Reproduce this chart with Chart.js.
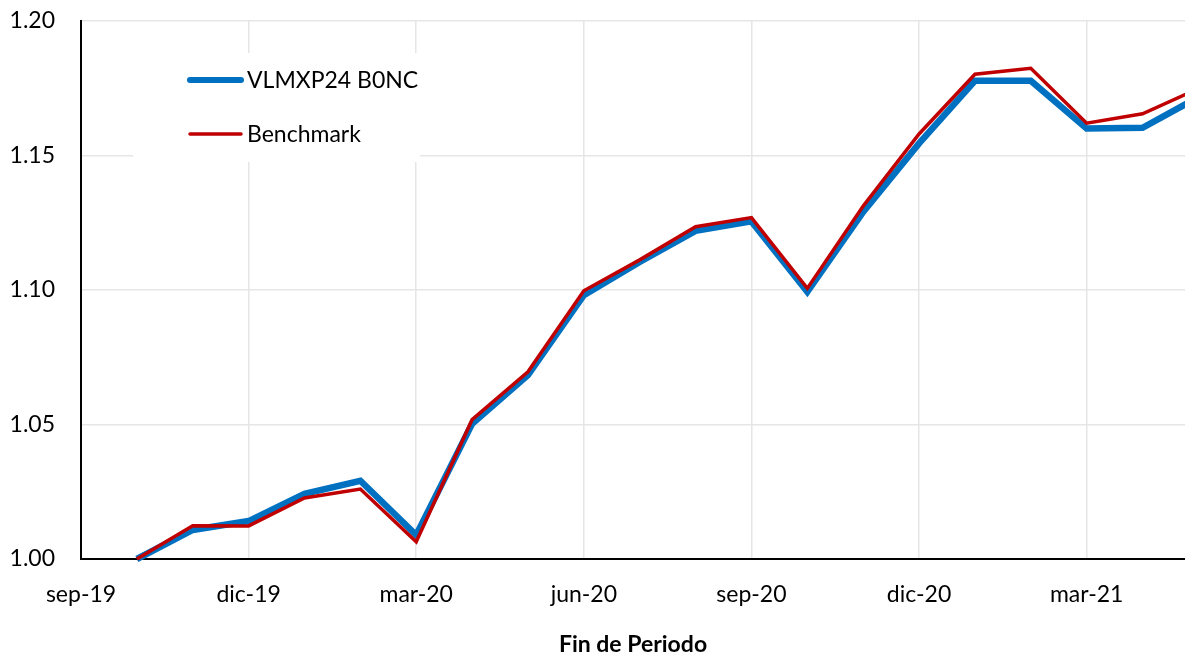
<!DOCTYPE html>
<html>
<head>
<meta charset="utf-8">
<script src="https://cdn.jsdelivr.net/npm/chart.js@4/dist/chart.umd.min.js"></script>
<style>
  html, body { margin: 0; padding: 0; background: #ffffff; }
  #wrap { width: 1185px; height: 658px; position: relative; }
</style>
</head>
<body>
<div id="wrap"><canvas id="c" width="1185" height="658"></canvas></div>
<script>
// Periods (end of month), x position = months after sep-19
const periods = ['oct-19','nov-19','dic-19','ene-20','feb-20','mar-20','abr-20','may-20','jun-20','jul-20','ago-20','sep-20',
                 'oct-20','nov-20','dic-20','ene-21','feb-21','mar-21','abr-21','may-21'];
const monthOffset = [1,2,3,4,5,6,7,8,9,10,11,12,13,14,15,16,17,18,19,20];
const fundValues = [1.000, 1.0108, 1.0141, 1.0242, 1.0291, 1.0089, 1.0503, 1.0684, 1.0981, 1.1104,
                    1.1220, 1.1255, 1.0993, 1.1290, 1.1545, 1.1778, 1.1778, 1.1600, 1.1603, 1.1717];
const benchValues = [1.000, 1.0124, 1.0123, 1.0227, 1.0260, 1.0064, 1.0518, 1.0696, 1.0997, 1.1112,
                     1.1235, 1.1269, 1.1006, 1.1312, 1.1580, 1.1802, 1.1824, 1.1620, 1.1655, 1.1749];
const tickLabels = ['sep-19','dic-19','mar-20','jun-20','sep-20','dic-20','mar-21'];
const tickMonths = [0, 3, 6, 9, 12, 15, 18];
const seriesNames = ['VLMXP24 B0NC', 'Benchmark'];

const FONT = 'Lato, "Open Sans", sans-serif';

const legendPlugin = {
  id: 'innerLegend',
  beforeDatasetsDraw(chart) {
    const ctx = chart.ctx;
    ctx.save();
    ctx.fillStyle = '#ffffff';
    ctx.fillRect(133, 53, 287, 109);
    const items = [
      { ds: chart.data.datasets[0], y: 80 },
      { ds: chart.data.datasets[1], y: 134 }
    ];
    items.forEach(it => {
      ctx.strokeStyle = it.ds.borderColor;
      ctx.lineWidth = it.ds.legendLineWidth;
      ctx.lineCap = 'round';
      ctx.beginPath();
      ctx.moveTo(190, it.y);
      ctx.lineTo(241, it.y);
      ctx.stroke();
      ctx.fillStyle = '#000000';
      ctx.font = '23px ' + FONT;
      ctx.textBaseline = 'middle';
      ctx.textAlign = 'left';
      ctx.fillText(it.ds.label, 247, it.y + 1);
    });
    ctx.restore();
  }
};

new Chart(document.getElementById('c'), {
  type: 'line',
  data: {
    datasets: [
      {
        label: seriesNames[0],
        data: monthOffset.map((m, i) => ({ x: m, y: fundValues[i] })),
        borderColor: '#0070C0',
        borderWidth: 6.5,
        legendLineWidth: 6,
        pointRadius: 0,
        tension: 0,
        order: 2,
        clip: { left: 10, top: 10, right: 0, bottom: 10 }
      },
      {
        label: seriesNames[1],
        data: monthOffset.map((m, i) => ({ x: m, y: benchValues[i] })),
        borderColor: '#C00000',
        borderWidth: 3.5,
        legendLineWidth: 3.5,
        pointRadius: 0,
        tension: 0,
        order: 1,
        clip: { left: 10, top: 10, right: 0, bottom: 10 }
      }
    ]
  },
  options: {
    responsive: false,
    animation: false,
    layout: { padding: { top: 21, right: 0, left: 0, bottom: 0 } },
    plugins: { legend: { display: false }, tooltip: { enabled: false } },
    scales: {
      x: {
        type: 'linear',
        min: 0,
        max: 19.76,
        afterBuildTicks(scale) {
          scale.ticks = tickMonths.map(v => ({ value: v }));
        },
        afterFit(scale) {
          scale.height = 99;
          scale.paddingLeft = 0; scale.paddingRight = 0;
          scale.paddingTop = 0; scale.paddingBottom = 0;
        },
        ticks: {
          autoSkip: false,
          maxRotation: 0,
          padding: 22,
          color: '#000000',
          font: { family: FONT, size: 23 },
          callback: (v) => tickLabels[tickMonths.indexOf(v)]
        },
        grid: { color: '#e6e6e6', lineWidth: 1.5, drawTicks: false },
        border: { color: '#000000', width: 2 },
        title: {
          display: true,
          text: 'Fin de Periodo',
          color: '#000000',
          padding: { top: 0, bottom: 0 },
          font: { family: FONT, size: 23, weight: 'bold' }
        }
      },
      y: {
        min: 1.0,
        max: 1.2,
        afterFit(scale) {
          scale.width = 81;
          scale.paddingLeft = 0; scale.paddingRight = 0;
          scale.paddingTop = 0; scale.paddingBottom = 0;
        },
        ticks: {
          stepSize: 0.05,
          padding: 26,
          color: '#000000',
          font: { family: FONT, size: 23 },
          callback: (v) => Number(v).toFixed(2)
        },
        grid: { color: '#e6e6e6', lineWidth: 1.5, drawTicks: false },
        border: { color: '#000000', width: 2 }
      }
    }
  },
  plugins: [legendPlugin]
});
</script>
</body>
</html>
